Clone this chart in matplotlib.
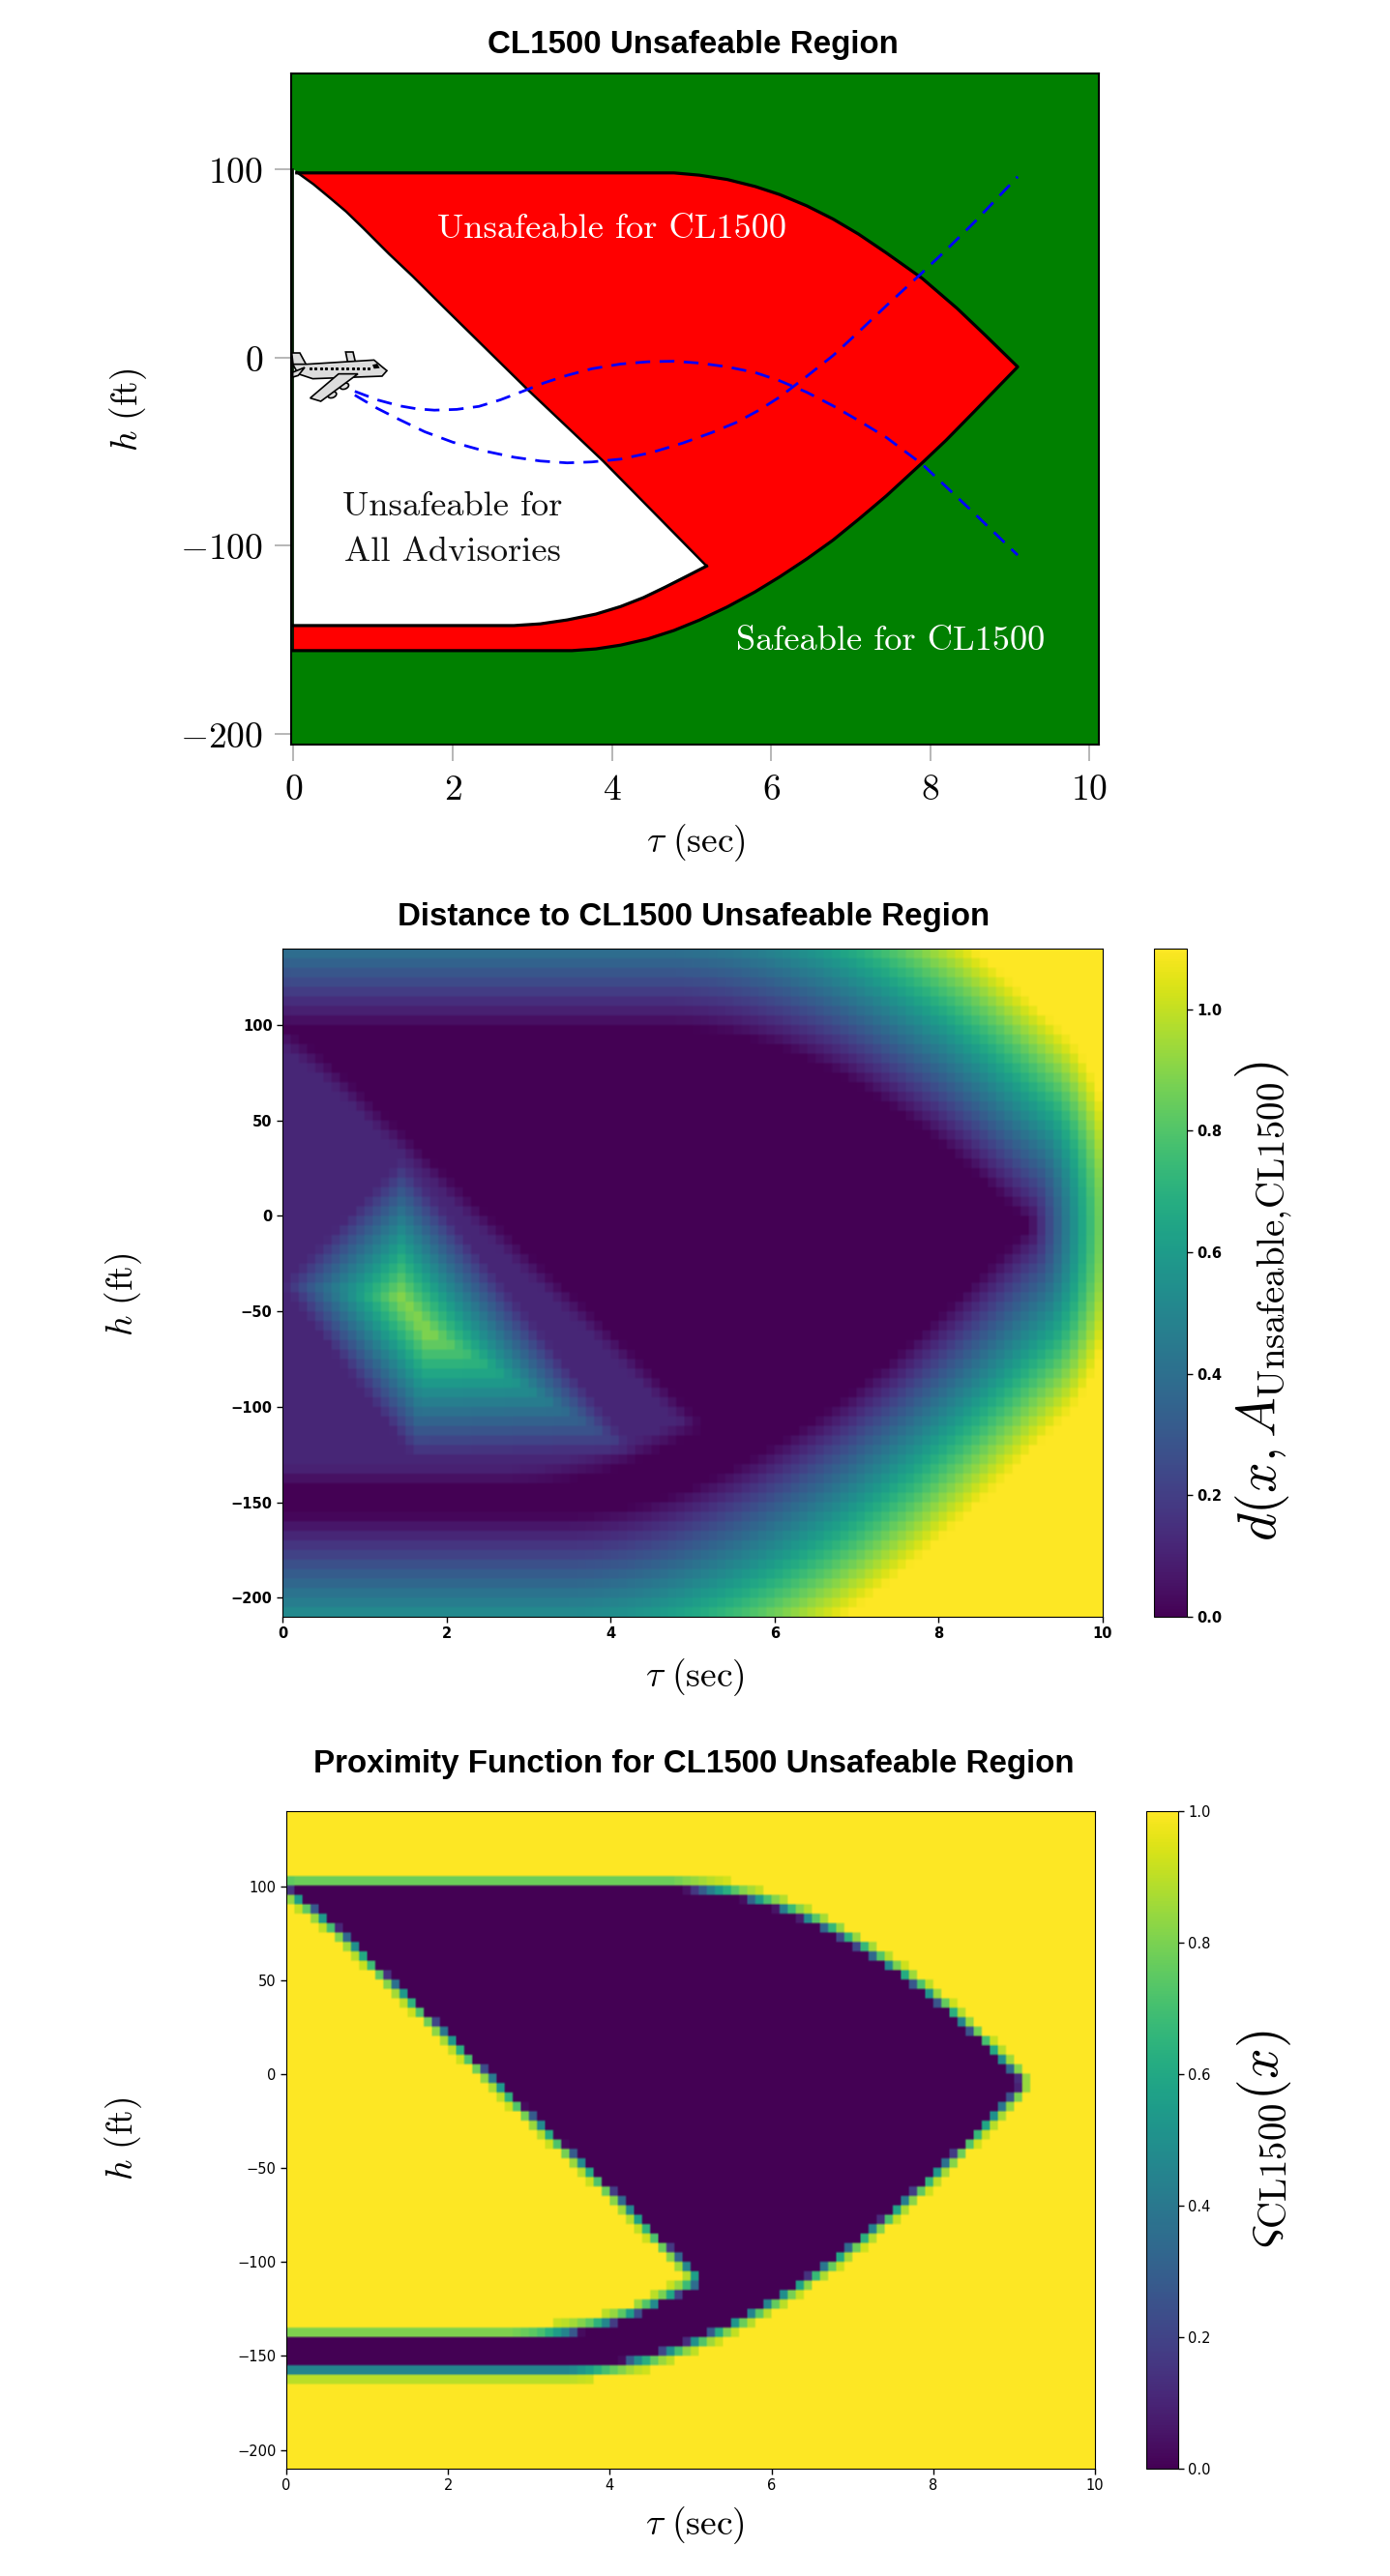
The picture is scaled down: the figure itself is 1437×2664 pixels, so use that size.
import numpy as np
import matplotlib
matplotlib.use("Agg")
import matplotlib.pyplot as plt
from matplotlib.path import Path
from matplotlib.patches import Polygon, Ellipse

plt.rcParams['mathtext.fontset'] = 'cm'

W, H = 1437, 2664

# Region boundaries (tau in s, h in ft)
outer_upper_tau = [0.04, 4.78, 5.1, 5.45, 5.8, 6.11, 6.45, 6.78, 7.1, 7.45, 7.9, 8.34, 8.7, 9.1]
outer_upper_h = [98, 98, 96.8, 94.5, 90.8, 86.5, 80.5, 73.5, 65.5, 55.5, 42, 26, 11.5, -5]
outer_lower_tau = [9.1, 8.56, 8.2, 7.9, 7.45, 7.1, 6.78, 6.45, 6.11, 5.8, 5.45, 5.1, 4.78, 4.45, 4.11, 3.8, 3.5, 0.0]
outer_lower_h = [-5, -28.5, -44, -56, -73.5, -86, -97, -107, -116.5, -124.5, -132.5, -139.5, -145, -149.5,
                 -152.8, -154.8, -155.7, -155.7]
inner_lower_tau = [0.0, 2.77, 3.1, 3.44, 3.8, 4.11, 4.4, 4.67, 4.95, 5.19]
inner_lower_h = [-142.4, -142.4, -141.5, -139.4, -136.3, -132.3, -127.5, -122, -116, -110.8]
diagonal_tau = [5.19, 3.89, 2.94, 1.88, 1.5, 1.2, 0.88, 0.66, 0.45, 0.25, 0.04]
diagonal_h = [-110.8, -55, -17, 27, 43, 55, 68.5, 77.5, 85, 92, 98.4]

# Ridge kite inside the white region of the middle panel
kite_tau = [0.0, 1.47, 4.33, 1.6]
kite_h = [-36, 30, -125, -127]
plateau_value = 0.12
kite_rate = 1.2

# Dashed trajectories
traj_a_tau = [0.77, 1.05, 1.33, 1.55, 1.77, 2.05, 2.33, 2.6, 2.88, 3.15, 3.44, 3.75, 4.11, 4.45, 4.78, 5.1, 5.45,
              5.8, 6.11, 6.45, 6.78, 7.1, 7.45, 7.9, 8.56, 9.1]
traj_a_h = [-18, -22.5, -25.7, -27.3, -28, -27.6, -26, -22.5, -18, -13.5, -9.5, -6, -3.5, -2.3, -2, -3, -5,
            -8, -12.4, -18.5, -25.7, -33.5, -42.5, -56.7, -83, -105]
traj_b_tau = [0.77, 1.05, 1.33, 1.65, 2.0, 2.4, 2.77, 3.1, 3.44, 3.75, 4.11, 4.5, 4.89, 5.25, 5.56, 5.85, 6.11,
              6.45, 6.78, 7.1, 7.45, 7.9, 8.2, 8.56, 9.1]
traj_b_h = [-20, -27, -33, -39.5, -45, -49.7, -53, -55, -56, -55.5, -54, -50.5, -45.5, -40, -34.6, -28, -21,
            -10, 1, 13.5, 27.5, 45, 57, 72, 96]

tau_ticks = [0, 2, 4, 6, 8, 10]
h_ticks_top = [100, 0, -100, -200]
h_ticks = [100, 50, 0, -50, -100, -150, -200]
d_ticks = [0.0, 0.2, 0.4, 0.6, 0.8, 1.0]

fig = plt.figure(figsize=(W / 100, H / 100), dpi=100)


def px_axes(l, t, r, b, **kw):
    return fig.add_axes([l / W, 1 - b / H, (r - l) / W, (b - t) / H], **kw)


def px_text(x, y, s, **kw):
    kw.setdefault('ha', 'center')
    kw.setdefault('va', 'center')
    return fig.text(x / W, 1 - y / H, s, **kw)


TITLE = dict(family='Liberation Sans', weight='bold', fontsize=23.9)
LABEL = dict(fontsize=27)

# -------- derived polygons
red_tau = outer_upper_tau + outer_lower_tau[1:] + inner_lower_tau + diagonal_tau[1:]
red_h = outer_upper_h + outer_lower_h[1:] + inner_lower_h + diagonal_h[1:]
white_tau = [0.0] + diagonal_tau[::-1] + inner_lower_tau[::-1]
white_h = [100] + diagonal_h[::-1] + inner_lower_h[::-1]

# -------- grid of the heat panels
tau_c = np.arange(100) * 0.1 + 0.05
h_c = -207.5 + np.arange(70) * 5.0
T, Z = np.meshgrid(tau_c, h_c)
pts = np.column_stack([T.ravel(), Z.ravel() / 100])


def seg_dist(px, vx, vy):
    """Distance to a closed polyline in the (tau, h/100) metric."""
    vx = np.asarray(vx, float)
    vy = np.asarray(vy, float) / 100
    best = np.full(len(px), np.inf)
    for i in range(len(vx)):
        j = (i + 1) % len(vx)
        a = np.array([vx[i], vy[i]])
        b = np.array([vx[j], vy[j]])
        ab = b - a
        L = max(ab @ ab, 1e-12)
        s = np.clip((px - a) @ ab / L, 0, 1)
        q = a + s[:, None] * ab
        best = np.minimum(best, np.hypot(*(px - q).T))
    return best


def inside(px, vx, vy):
    return Path(np.column_stack([vx, np.asarray(vy, float) / 100])).contains_points(px)


d_red = seg_dist(pts, red_tau, red_h)
in_red = inside(pts, red_tau, red_h)
in_white = inside(pts, white_tau, white_h)
in_kite = inside(pts, kite_tau, kite_h)
d_kite = seg_dist(pts, kite_tau, kite_h)

dist = d_red.copy()
dist[in_red] = 0
dist[in_white] = np.minimum(d_red[in_white], plateau_value)
both = in_white & in_kite
dist[both] += kite_rate * d_kite[both]
D = dist.reshape(T.shape)
prox = np.where(D >= 0.08, 1.0, 1 - np.exp(-D / 0.03))


def soft(a):
    """Cells stay visible, with the slight blur of the reference's resampling."""
    return a.repeat(4, axis=0).repeat(4, axis=1)


# -------- top panel
ax1 = px_axes(301, 76, 1136, 770)
ax1.set_facecolor('#008000')
ax1.set_xlim(-0.03, 10.12)
ax1.set_ylim(-205.6, 150.8)
ax1.add_patch(Polygon(np.column_stack([red_tau, red_h]), closed=True, fc='#ff0000', ec='none', zorder=2))
ax1.add_patch(Polygon(np.column_stack([white_tau, white_h]), closed=True, fc='white', ec='none', zorder=2))
for tx, hx, lw in [(outer_upper_tau + outer_lower_tau[1:], outer_upper_h + outer_lower_h[1:], 2.3),
                   (inner_lower_tau, inner_lower_h, 2.3),
                   (diagonal_tau, diagonal_h, 1.8)]:
    ax1.plot(tx, hx, color='black', lw=lw, zorder=3, solid_joinstyle='round')
ax1.plot([0, 0], [100, -155.7], color='black', lw=1.1, zorder=3)
ax1.plot(traj_a_tau, traj_a_h, color='#0000ff', lw=2.0, dashes=(5.5, 3.5), zorder=4)
ax1.plot(traj_b_tau, traj_b_h, color='#0000ff', lw=2.0, dashes=(5.5, 3.5), zorder=4)
ax1.set_xticks(tau_ticks)
ax1.set_xticklabels([f'${v}$' for v in tau_ticks])
ax1.set_yticks(h_ticks_top)
ax1.set_yticklabels([f'${v}$' for v in h_ticks_top])
ax1.tick_params(length=12, width=1.2, color='#aaaaaa', labelsize=27, pad=9)
for s in ax1.spines.values():
    s.set_linewidth(1.5)
SER = dict(family='cmr10', fontsize=26.2)
ax1.text(4.0, 68, 'Unsafeable for CL1500', color='white', ha='center', va='center', zorder=5, **SER)
ax1.text(2.0, -79.5, 'Unsafeable for', color='#111111', ha='center', va='center', zorder=5, **SER)
ax1.text(2.0, -103.5, 'All Advisories', color='#111111', ha='center', va='center', zorder=5, **SER)
ax1.text(7.5, -151, 'Safeable for CL1500', color='white', ha='center', va='center', zorder=5, **SER)
px_text(716, 47, 'CL1500 Unsafeable Region', **TITLE)
px_text(719, 872, r'$\tau\ (\mathrm{sec})$', **LABEL)
px_text(133, 424, r'$h\ (\mathrm{ft})$', rotation=90, **LABEL)

# airplane icon (artwork, in icon-local units of the 200x120 px box at 3x)
icon = px_axes(280, 320, 480, 440)
icon.set_xlim(0, 600)
icon.set_ylim(360, 0)
icon.axis('off')
icon.patch.set_alpha(0)
GR = dict(fc='#dddddd', ec='black', lw=1.2)
icon.add_patch(Polygon([(65, 135), (90, 135), (110, 172), (70, 178)], **GR))
icon.add_patch(Polygon([(232, 132), (255, 132), (262, 162), (238, 162)], **GR))
icon.add_patch(Ellipse((228, 238), 28, 18, angle=-20, **GR))
icon.add_patch(Ellipse((190, 265), 28, 18, angle=-20, **GR))
icon.add_patch(Polygon([(68, 170), (110, 170), (320, 157), (345, 178), (360, 190), (345, 207), (130, 215),
                        (85, 200)], **GR))
icon.add_patch(Polygon([(68, 195), (105, 180), (85, 205), (68, 210)], **GR))
icon.add_patch(Polygon([(210, 200), (270, 200), (155, 285), (122, 275)], **GR))
icon.add_patch(Polygon([(315, 172), (330, 168), (338, 182), (320, 184)], fc='black', ec='none'))
icon.plot(np.arange(122, 306, 16.5), [183] * 12, ls='none', marker='s', ms=1.2, color='black')

# -------- middle panel
ax2 = px_axes(292, 981, 1140, 1672)
im2 = ax2.imshow(soft(D), origin='lower', extent=[0, 10, -210, 140], aspect='auto', cmap='viridis',
                 vmin=0, vmax=1.1, interpolation='bilinear')
ax2.set_xticks(tau_ticks)
ax2.set_yticks(h_ticks)
ax2.tick_params(labelsize=10.5, width=1, length=4)
for lab in ax2.get_xticklabels() + ax2.get_yticklabels():
    lab.set_fontweight('bold')
cax2 = px_axes(1193, 981, 1227, 1672)
cb2 = fig.colorbar(im2, cax=cax2)
cb2.set_ticks(d_ticks)
cb2.ax.tick_params(labelsize=10.5, width=1, length=4)
for lab in cb2.ax.get_yticklabels():
    lab.set_fontweight('bold')
px_text(717, 949, 'Distance to CL1500 Unsafeable Region', **TITLE)
px_text(718, 1735, r'$\tau\ (\mathrm{sec})$', **LABEL)
px_text(128, 1339, r'$h\ (\mathrm{ft})$', rotation=90, **LABEL)
px_text(1307, 1346, r'$d(x,A_{\mathrm{Unsafeable},\!\mathrm{CL1500}})$', rotation=90, fontsize=40)

# -------- bottom panel
ax3 = px_axes(296, 1873, 1132, 2553)
im3 = ax3.imshow(soft(prox), origin='lower', extent=[0, 10, -210, 140], aspect='auto', cmap='viridis',
                 vmin=0, vmax=1, interpolation='bilinear')
ax3.set_xticks(tau_ticks)
ax3.set_yticks(h_ticks)
ax3.tick_params(labelsize=10.5, width=1, length=4)
cax3 = px_axes(1185, 1873, 1218, 2553)
cb3 = fig.colorbar(im3, cax=cax3)
cb3.set_ticks(d_ticks)
cb3.ax.tick_params(labelsize=10.5, width=1, length=4)
px_text(717, 1825, 'Proximity Function for CL1500 Unsafeable Region', **TITLE)
px_text(718, 2612, r'$\tau\ (\mathrm{sec})$', **LABEL)
px_text(128, 2212, r'$h\ (\mathrm{ft})$', rotation=90, **LABEL)
px_text(1307, 2212, r'$\varsigma_{\mathrm{CL1500}}(x)$', rotation=90, fontsize=40)

fig.savefig('out.png', dpi=100)
